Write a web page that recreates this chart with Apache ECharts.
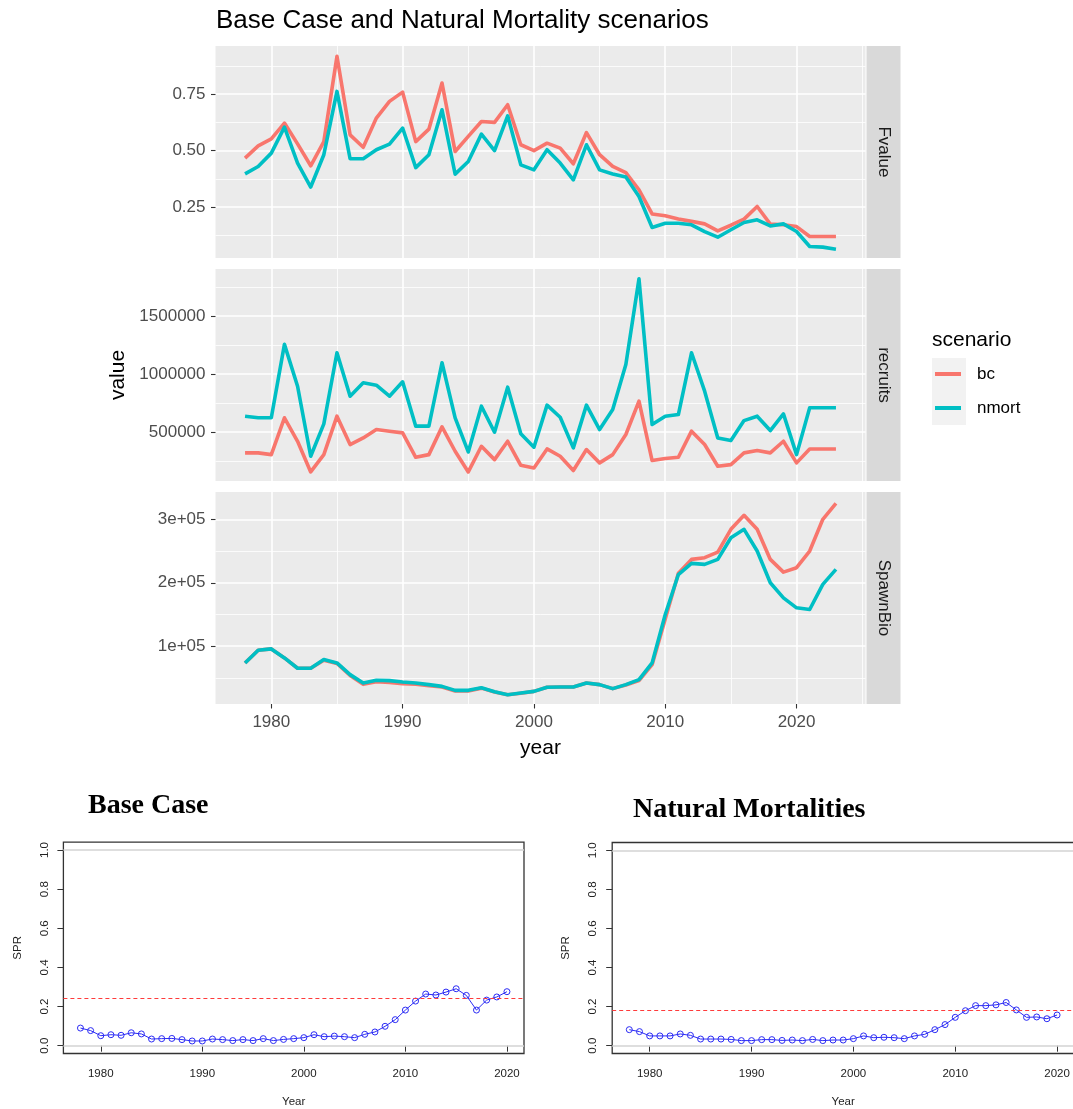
<!DOCTYPE html>
<html>
<head>
<meta charset="utf-8">
<title>Base Case and Natural Mortality scenarios</title>
<script src="https://cdn.jsdelivr.net/npm/echarts@6/dist/echarts.min.js"></script>
<style>
  html, body { margin: 0; padding: 0; background: #ffffff; }
  #chart { width: 1073px; height: 1109px; }
</style>
</head>
<body>
<div id="chart"></div>
<script>
// ---- stock assessment outputs by year ----
const YEARS = [1978, 1979, 1980, 1981, 1982, 1983, 1984, 1985, 1986, 1987,
               1988, 1989, 1990, 1991, 1992, 1993, 1994, 1995, 1996, 1997,
               1998, 1999, 2000, 2001, 2002, 2003, 2004, 2005, 2006, 2007,
               2008, 2009, 2010, 2011, 2012, 2013, 2014, 2015, 2016, 2017,
               2018, 2019, 2020, 2021, 2022, 2023];

// fishing mortality
const F_BC = [0.467, 0.521, 0.552, 0.622, 0.530, 0.433, 0.540, 0.917, 0.570, 0.515,
              0.644, 0.718, 0.759, 0.540, 0.595, 0.799, 0.496, 0.563, 0.629, 0.625,
              0.703, 0.526, 0.500, 0.533, 0.511, 0.442, 0.580, 0.482, 0.430, 0.403,
              0.327, 0.220, 0.212, 0.198, 0.187, 0.176, 0.145, 0.170, 0.197, 0.253,
              0.175, 0.172, 0.164, 0.120, 0.120, 0.120];
const F_NM = [0.397, 0.430, 0.489, 0.604, 0.445, 0.339, 0.482, 0.762, 0.464, 0.464,
              0.504, 0.529, 0.600, 0.425, 0.482, 0.681, 0.396, 0.452, 0.573, 0.500,
              0.654, 0.437, 0.415, 0.504, 0.445, 0.371, 0.526, 0.415, 0.397, 0.383,
              0.297, 0.160, 0.179, 0.179, 0.172, 0.142, 0.117, 0.150, 0.182, 0.194,
              0.167, 0.176, 0.142, 0.076, 0.073, 0.064];

// recruits
const REC_BC = [322000, 322000, 307000, 624000, 422000, 158000, 307000, 638000, 394000, 451000,
                523000, 509000, 494000, 284000, 307000, 546000, 336000, 158000, 379000, 264000,
                422000, 215000, 192000, 356000, 293000, 170000, 351000, 236000, 307000, 480000,
                767000, 256000, 273000, 284000, 509000, 394000, 207000, 221000, 322000, 342000,
                322000, 422000, 236000, 356000, 356000, 356000];
const REC_NM = [638000, 624000, 624000, 1256000, 896000, 293000, 572000, 1184000, 810000, 925000,
                905000, 810000, 934000, 552000, 552000, 1098000, 624000, 330000, 724000, 500000,
                888000, 486000, 371000, 733000, 629000, 365000, 733000, 523000, 695000, 1083000,
                1820000, 566000, 638000, 652000, 1184000, 853000, 451000, 428000, 600000, 638000,
                514000, 658000, 307000, 710000, 710000, 710000];

// spawning biomass
const SSB_BC = [73700, 93700, 95800, 81600, 65300, 65300, 78000, 73000, 54000, 40000,
                44000, 43000, 41000, 40000, 38000, 35800, 29500, 29500, 34000, 28000,
                23500, 26000, 28900, 35300, 35800, 35800, 42100, 39500, 33200, 39000,
                46000, 71000, 143000, 215000, 236800, 239500, 248400, 284200, 306300, 284200,
                236800, 216800, 223700, 250000, 300000, 325000];
const SSB_NM = [73700, 93700, 95800, 81600, 65300, 65300, 79000, 73700, 55300, 42100,
                46300, 45800, 43700, 42100, 39500, 36800, 30500, 30500, 34700, 28400,
                23700, 26300, 28900, 35300, 35800, 35800, 42100, 39500, 33200, 39500,
                47400, 73700, 150000, 213000, 230500, 229000, 236800, 271000, 284200, 250000,
                200000, 176300, 160500, 157900, 197400, 221000];

// spawning potential ratio
const SPR_YEARS = [1978, 1979, 1980, 1981, 1982, 1983, 1984, 1985, 1986, 1987,
                   1988, 1989, 1990, 1991, 1992, 1993, 1994, 1995, 1996, 1997,
                   1998, 1999, 2000, 2001, 2002, 2003, 2004, 2005, 2006, 2007,
                   2008, 2009, 2010, 2011, 2012, 2013, 2014, 2015, 2016, 2017,
                   2018, 2019, 2020];
const SPR_BC = [0.090, 0.077, 0.051, 0.056, 0.053, 0.066, 0.060, 0.034, 0.036, 0.037,
                0.031, 0.024, 0.024, 0.034, 0.031, 0.026, 0.031, 0.026, 0.036, 0.026,
                0.032, 0.036, 0.041, 0.056, 0.046, 0.049, 0.046, 0.041, 0.058, 0.070,
                0.099, 0.133, 0.182, 0.228, 0.264, 0.259, 0.274, 0.291, 0.257, 0.182,
                0.233, 0.249, 0.276];
const SPR_NM = [0.082, 0.072, 0.050, 0.050, 0.050, 0.060, 0.053, 0.034, 0.034, 0.034,
                0.032, 0.026, 0.026, 0.031, 0.031, 0.027, 0.029, 0.026, 0.032, 0.026,
                0.029, 0.029, 0.036, 0.050, 0.041, 0.043, 0.041, 0.036, 0.050, 0.058,
                0.082, 0.108, 0.145, 0.179, 0.205, 0.205, 0.209, 0.221, 0.183, 0.145,
                0.147, 0.138, 0.157];
const SPR_REF_BC = 0.238;
const SPR_REF_NM = 0.178;
const SPR_GUIDES = [0, 1];

// ---- breaks ----
const YEAR_BREAKS = [1980, 1990, 2000, 2010, 2020];
const YEAR_MINOR = [1985, 1995, 2005, 2015, 2025];
const F_BREAKS = [0.25, 0.50, 0.75];
const F_MINOR = [0.125, 0.375, 0.625, 0.875];
const REC_BREAKS = [500000, 1000000, 1500000];
const REC_MINOR = [250000, 750000, 1250000, 1750000];
const SSB_BREAKS = [100000, 200000, 300000];
const SSB_MINOR = [50000, 150000, 250000];
const SPR_BREAKS = [0.0, 0.2, 0.4, 0.6, 0.8, 1.0];
const SPR_YEAR_BREAKS = [1980, 1990, 2000, 2010, 2020];

const SCENARIOS = ['bc', 'nmort'];
const FACETS = ['Fvalue', 'recruits', 'SpawnBio'];

// ---- styling ----
const SANS = 'Liberation Sans, Arial, sans-serif';
const SERIF = 'Liberation Serif, Times New Roman, serif';
const COL_BC = '#F8766D';
const COL_NM = '#00BFC4';
const SPR_BLUE = '#2B2BF5';
const yearText = v => String(Math.round(v));

const PANEL_LEFT = 215.5, PANEL_W = 650, PANEL_H = 212;
const PANEL_TOPS = [46, 269, 492];
const STRIP_X = 866.5, STRIP_W = 34;

const facetCfg = [
  { vals: [F_BC, F_NM], min: 0.025, max: 0.963, br: F_BREAKS, mi: F_MINOR,
    fmt: v => v.toFixed(2) },
  { vals: [REC_BC, REC_NM], min: 80000, max: 1905000, br: REC_BREAKS, mi: REC_MINOR,
    fmt: v => String(v) },
  { vals: [SSB_BC, SSB_NM], min: 9000, max: 343000, br: SSB_BREAKS, mi: SSB_MINOR,
    fmt: v => (v / 100000) + 'e+05' }
];

const grids = [], xAxes = [], yAxes = [], series = [], graphics = [];

facetCfg.forEach((f, g) => {
  const last = g === facetCfg.length - 1;
  grids.push({
    left: PANEL_LEFT, top: PANEL_TOPS[g], width: PANEL_W, height: PANEL_H,
    outerBoundsMode: 'none', containLabel: false,
    show: true, backgroundColor: '#EBEBEB', borderWidth: 0
  });
  // major x
  xAxes.push({
    gridIndex: g, type: 'value', min: 1975.75, max: 2025.25,
    axisLine: { show: false },
    axisTick: { show: last, customValues: YEAR_BREAKS, length: 4.5,
                lineStyle: { color: '#333333', width: 1.1 } },
    axisLabel: { show: last, customValues: YEAR_BREAKS, formatter: yearText, color: '#4D4D4D',
                 fontSize: 17, fontFamily: SANS, margin: 10 },
    splitLine: { show: true, lineStyle: { color: '#FFFFFF', width: 1.6 } },
    name: last ? 'year' : '', nameLocation: 'middle', nameGap: 34,
    nameTextStyle: { color: '#000000', fontSize: 21, fontFamily: SANS }
  });
  // minor x
  xAxes.push({
    gridIndex: g, type: 'value', min: 1975.75, max: 2025.25, position: 'bottom',
    axisLine: { show: false },
    axisTick: { show: false, customValues: YEAR_MINOR },
    axisLabel: { show: false, customValues: YEAR_MINOR },
    splitLine: { show: true, lineStyle: { color: '#FFFFFF', width: 0.8 } }
  });
  // major y
  yAxes.push({
    gridIndex: g, type: 'value', min: f.min, max: f.max,
    axisLine: { show: false },
    axisTick: { show: true, customValues: f.br, length: 4.5,
                lineStyle: { color: '#333333', width: 1.1 } },
    axisLabel: { customValues: f.br, formatter: f.fmt, color: '#4D4D4D',
                 fontSize: 17, fontFamily: SANS, margin: 10 },
    splitLine: { show: true, lineStyle: { color: '#FFFFFF', width: 1.6 } },
    name: g === 1 ? 'value' : '', nameLocation: 'middle', nameRotate: 90, nameGap: 82,
    nameTextStyle: { color: '#000000', fontSize: 21, fontFamily: SANS }
  });
  // minor y
  yAxes.push({
    gridIndex: g, type: 'value', min: f.min, max: f.max, position: 'left',
    axisLine: { show: false },
    axisTick: { show: false, customValues: f.mi },
    axisLabel: { show: false, customValues: f.mi },
    splitLine: { show: true, lineStyle: { color: '#FFFFFF', width: 0.8 } }
  });
  SCENARIOS.forEach((s, k) => {
    const col = k === 0 ? COL_BC : COL_NM;
    series.push({
      type: 'line', name: s, xAxisIndex: 2 * g, yAxisIndex: 2 * g,
      data: YEARS.map((yr, i) => [yr, f.vals[k][i]]),
      symbol: 'none', showSymbol: false, z: 3 + k,
      lineStyle: { color: col, width: 3.6, join: 'round' },
      itemStyle: { color: col }
    });
  });
  // facet strip on the right
  graphics.push({
    type: 'rect', silent: true,
    shape: { x: STRIP_X, y: PANEL_TOPS[g], width: STRIP_W, height: PANEL_H },
    style: { fill: '#D9D9D9' }
  });
  graphics.push({
    type: 'text', silent: true,
    x: STRIP_X + STRIP_W / 2, y: PANEL_TOPS[g] + PANEL_H / 2, rotation: -Math.PI / 2,
    style: { text: FACETS[g], fill: '#1A1A1A', fontSize: 17, fontFamily: SANS,
             align: 'center', verticalAlign: 'middle' }
  });
});

// legend title and key background
graphics.push({
  type: 'text', silent: true, x: 932, y: 340,
  style: { text: 'scenario', fill: '#000000', fontSize: 21, fontFamily: SANS,
           align: 'left', verticalAlign: 'middle' }
});
graphics.push({
  type: 'rect', silent: true, z: -1,
  shape: { x: 932, y: 358, width: 34, height: 67 },
  style: { fill: '#F2F2F2' }
});

// ---- SPR panels (base graphics look) ----
const sprPanels = [
  { left: 63.4, top: 842.2, width: 460.6, height: 211.3, vals: SPR_BC, ref: SPR_REF_BC },
  { left: 612.2, top: 842.5, width: 462, height: 211, vals: SPR_NM, ref: SPR_REF_NM }
];
sprPanels.forEach((p, j) => {
  const gi = grids.length;
  grids.push({
    left: p.left, top: p.top, width: p.width, height: p.height,
    outerBoundsMode: 'none', containLabel: false,
    show: true, backgroundColor: 'transparent', borderColor: '#333333', borderWidth: 1.3
  });
  const xi = xAxes.length, yi = yAxes.length;
  xAxes.push({
    gridIndex: gi, type: 'value', min: 1976.32, max: 2021.68,
    axisLine: { show: false },
    axisTick: { show: true, customValues: SPR_YEAR_BREAKS, length: 6,
                lineStyle: { color: '#333333', width: 1 } },
    axisLabel: { customValues: SPR_YEAR_BREAKS, formatter: yearText, color: '#222222',
                 fontSize: 11.5, fontFamily: SANS, margin: 14 },
    splitLine: { show: false },
    name: 'Year', nameLocation: 'middle', nameGap: 42,
    nameTextStyle: { color: '#222222', fontSize: 11.5, fontFamily: SANS }
  });
  yAxes.push({
    gridIndex: gi, type: 'value', min: -0.04, max: 1.04,
    axisLine: { show: false },
    axisTick: { show: true, customValues: SPR_BREAKS, length: 6,
                lineStyle: { color: '#333333', width: 1 } },
    axisLabel: { customValues: SPR_BREAKS, rotate: 90, formatter: v => v.toFixed(1),
                 color: '#222222', fontSize: 11.5, fontFamily: SANS, margin: 13 },
    splitLine: { show: false },
    name: 'SPR', nameLocation: 'middle', nameRotate: 90, nameGap: 40,
    nameTextStyle: { color: '#222222', fontSize: 11.5, fontFamily: SANS }
  });
  series.push({
    type: 'line', name: 'SPR', xAxisIndex: xi, yAxisIndex: yi,
    data: SPR_YEARS.map((yr, i) => [yr, p.vals[i]]),
    symbol: 'circle', symbolSize: 6, showSymbol: true,
    itemStyle: { color: 'rgba(0,0,0,0)', borderColor: SPR_BLUE, borderWidth: 1 },
    lineStyle: { color: SPR_BLUE, width: 1 },
    markLine: {
      silent: true, symbol: ['none', 'none'], label: { show: false },
      data: [
        ...SPR_GUIDES.map(v => ({ yAxis: v, lineStyle: { color: '#D3D3D3', width: 1.5, type: 'solid' } })),
        { yAxis: p.ref, lineStyle: { color: '#FF3B3B', width: 1, type: [4, 3] } }
      ]
    }
  });
});

const chart = echarts.init(document.getElementById('chart'), null, { renderer: 'canvas' });
chart.setOption({
  animation: false,
  backgroundColor: '#FFFFFF',
  title: [
    { text: 'Base Case and Natural Mortality scenarios', left: 216, top: 8, padding: 0,
      textStyle: { fontFamily: SANS, fontSize: 26, fontWeight: 'normal', color: '#000000' } },
    { text: 'Base Case', left: 88, top: 792, padding: 0,
      textStyle: { fontFamily: SERIF, fontSize: 28, fontWeight: 'bold', color: '#000000' } },
    { text: 'Natural Mortalities', left: 633, top: 796, padding: 0,
      textStyle: { fontFamily: SERIF, fontSize: 28, fontWeight: 'bold', color: '#000000' } }
  ],
  legend: {
    data: SCENARIOS, orient: 'vertical', left: 935, top: 364, padding: 0,
    icon: 'rect', itemWidth: 26, itemHeight: 4, itemGap: 14,
    textStyle: { color: '#000000', fontSize: 17, fontFamily: SANS, lineHeight: 20,
                 padding: [0, 0, 0, 11] },
    selectedMode: false
  },
  grid: grids,
  xAxis: xAxes,
  yAxis: yAxes,
  series: series,
  graphic: graphics
});
</script>
</body>
</html>
